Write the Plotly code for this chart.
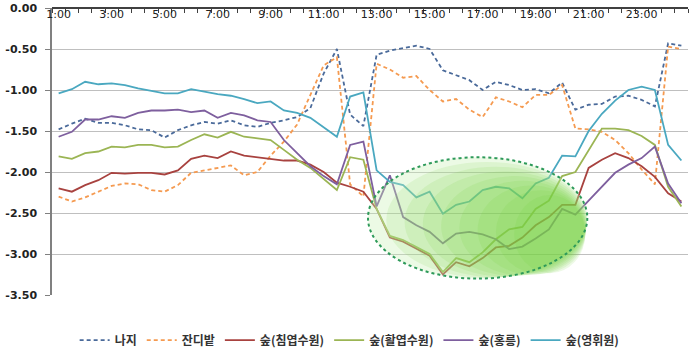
import plotly.graph_objects as go

times = [f"{h}:{m:02d}" for h in range(1, 25) for m in (0, 30)]

naji = [-1.48, -1.41, -1.35, -1.40, -1.40, -1.43, -1.48, -1.49, -1.58, -1.49, -1.43, -1.39,
        -1.41, -1.37, -1.43, -1.45, -1.40, -1.37, -1.33, -1.22, -0.80, -0.50, -1.30, -1.44,
        -0.57, -0.52, -0.49, -0.46, -0.50, -0.76, -0.82, -0.88, -1.00, -0.90, -0.94, -1.00,
        -0.99, -1.04, -0.91, -1.24, -1.18, -1.17, -1.08, -1.07, -1.12, -1.20, -0.43, -0.46]

jandi = [-2.30, -2.36, -2.31, -2.24, -2.17, -2.14, -2.15, -2.22, -2.24, -2.16, -2.01, -1.98,
         -1.95, -1.92, -2.04, -2.00, -1.80, -1.63, -1.42, -1.05, -0.70, -0.60, -2.15, -2.30,
         -0.68, -0.75, -0.85, -0.83, -1.00, -1.14, -1.11, -1.24, -1.33, -1.09, -1.14, -1.21,
         -1.06, -1.06, -0.94, -1.47, -1.48, -1.51, -1.61, -1.77, -1.97, -2.15, -0.47, -0.50]

chim = [-2.20, -2.24, -2.16, -2.10, -2.01, -2.02, -2.01, -2.01, -2.03, -1.98, -1.84, -1.80,
        -1.83, -1.75, -1.80, -1.82, -1.84, -1.86, -1.86, -1.91, -2.00, -2.13, -2.18, -2.24,
        -2.45, -2.80, -2.85, -2.94, -3.02, -3.25, -3.10, -3.15, -3.05, -2.92, -2.90, -2.80,
        -2.65, -2.55, -2.40, -2.40, -1.95, -1.85, -1.77, -1.83, -1.93, -2.06, -2.26, -2.36]

hwal = [-1.81, -1.84, -1.77, -1.75, -1.69, -1.70, -1.67, -1.67, -1.70, -1.69, -1.61, -1.54,
        -1.58, -1.51, -1.57, -1.59, -1.61, -1.73, -1.85, -1.95, -2.08, -2.22, -1.82, -1.85,
        -2.45, -2.78, -2.83, -2.92, -3.00, -3.22, -3.05, -3.10, -2.98, -2.82, -2.70, -2.67,
        -2.45, -2.35, -2.05, -2.00, -1.73, -1.47, -1.47, -1.49, -1.56, -1.67, -2.18, -2.42]

hong = [-1.57, -1.51, -1.36, -1.36, -1.32, -1.34, -1.28, -1.25, -1.25, -1.24, -1.27, -1.25,
        -1.34, -1.28, -1.31, -1.37, -1.39, -1.61, -1.77, -1.93, -2.05, -2.15, -1.67, -1.63,
        -2.42, -2.04, -2.55, -2.65, -2.73, -2.87, -2.75, -2.73, -2.76, -2.82, -2.94, -2.91,
        -2.81, -2.70, -2.45, -2.52, -2.35, -2.18, -2.01, -1.91, -1.83, -1.69, -2.14, -2.38]

yeong = [-1.04, -0.99, -0.90, -0.93, -0.92, -0.94, -0.98, -1.01, -1.04, -1.04, -0.99, -1.02,
         -1.05, -1.07, -1.11, -1.16, -1.14, -1.25, -1.28, -1.34, -1.45, -1.57, -1.08, -1.03,
         -1.98, -2.12, -2.16, -2.31, -2.24, -2.51, -2.40, -2.36, -2.22, -2.18, -2.20, -2.32,
         -2.14, -2.07, -1.80, -1.81, -1.50, -1.29, -1.13, -1.00, -0.96, -1.00, -1.67, -1.86]

series_names = ["나지", "잔디밭", "숲(침엽수원)", "숲(활엽수원)", "숲(홍릉)", "숲(영휘원)"]
series_vals = [naji, jandi, chim, hwal, hong, yeong]
colors = ["#4A6A9A", "#F59A50", "#A8423F", "#9BB554", "#7E5F9E", "#4AA8C0"]
dashes = ["4px,3px", "4px,3px", "solid", "solid", "solid", "solid"]

yticks = [0.0, -0.5, -1.0, -1.5, -2.0, -2.5, -3.0, -3.5]
ytext = ["0.00", "-0.50", "-1.00", "-1.50", "-2.00", "-2.50", "-3.00", "-3.50"]

idx = list(range(len(times)))

fig = go.Figure()
for name, vals, c, d in zip(series_names, series_vals, colors, dashes):
    fig.add_trace(go.Scatter(x=idx, y=vals, mode="lines", name=name,
                             line=dict(color=c, width=1.8, dash=d)))

# highlighted ellipse (approximate radial gradient with stacked ellipses)
ex0, ex1, ey0, ey1 = 23.35, 39.9, -1.82, -3.30
W = ex1 - ex0
H = ey0 - ey1
shapes = [dict(type="circle", xref="x", yref="y", x0=ex0, x1=ex1, y0=ey0, y1=ey1,
               fillcolor="rgba(200,240,180,0.35)", line=dict(width=0), layer="above")]
n = 8
for k in range(1, n + 1):
    f = k / (n + 1)
    shapes.append(dict(type="circle", xref="x", yref="y",
                       x0=ex0 + W * 0.75 * f, x1=ex1 - W * 0.01 * f,
                       y0=ey0 - H * 0.35 * f, y1=ey1 + H * 0.05 * f,
                       fillcolor="rgba(110,205,50,0.12)", line=dict(width=0), layer="above"))
shapes.append(dict(type="circle", xref="x", yref="y", x0=ex0, x1=ex1, y0=ey0, y1=ey1,
                   fillcolor="rgba(0,0,0,0)", line=dict(color="#2E9A5A", width=2, dash="dot"),
                   layer="above"))

fig.update_layout(
    width=699, height=358,
    margin=dict(l=52, r=11, t=8, b=63, autoexpand=False),
    paper_bgcolor="white", plot_bgcolor="white",
    shapes=shapes,
    showlegend=True,
    legend=dict(orientation="h", x=0.468, xanchor="center", y=-0.157, yanchor="middle",
                font=dict(family="Noto Sans CJK KR", size=12, color="#333333", weight="bold"),
                itemwidth=30, tracegroupgap=0),
    xaxis=dict(range=[-0.5, len(times) - 0.5], side="bottom", anchor="free", position=1,
               showline=True, linecolor="#404040",
               linewidth=1.5, showgrid=False, zeroline=False, ticks="", ticklen=0,
               ticklabelstandoff=-4,
               tickvals=idx[::4], ticktext=times[::4],
               tickfont=dict(family="DejaVu Sans", size=11, color="#222222"),
               minor=dict(tickmode="linear", tick0=-0.5, dtick=1, ticks="outside", ticklen=4,
                          tickcolor="#404040", showgrid=False)),
    yaxis=dict(range=[-3.5, 0], tickvals=yticks, ticktext=ytext, showgrid=True,
               gridcolor="#BFBFBF", gridwidth=1, showline=True, linecolor="#808080", linewidth=1.5,
               zeroline=False, ticks="outside", ticklen=5, tickcolor="#808080",
               ticklabelstandoff=6,
               tickfont=dict(family="DejaVu Sans", size=11, color="#222222", weight="bold")),
)

fig.write_html("out.html", config={"displayModeBar": False},
               post_script="document.body.style.margin='0';")
